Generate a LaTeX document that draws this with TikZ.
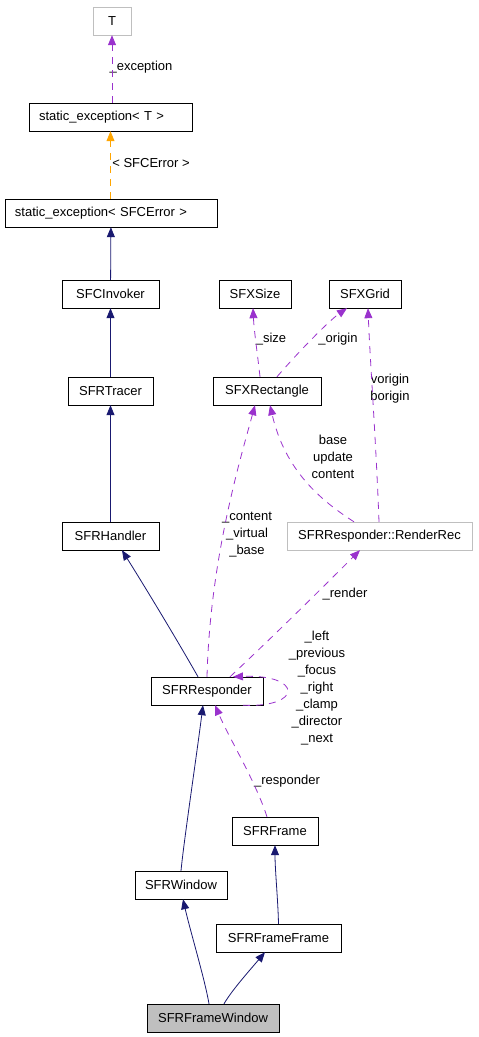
\documentclass[tikz,border=0pt]{standalone}
\usepackage{fontspec}
\setmainfont{Liberation Sans}
\usetikzlibrary{arrows.meta}
\definecolor{inhcol}{HTML}{191970}
\definecolor{usecol}{HTML}{9A32CD}
\definecolor{tplcol}{HTML}{FFA500}
\definecolor{boxgray}{HTML}{BFBFBF}

\begin{document}
\begin{tikzpicture}[x=1pt,y=-1pt,
  cls/.style={draw,rectangle,minimum height=28pt,inner xsep=2pt,font=\fontsize{13}{15}\selectfont},
  ext/.style={cls,draw=boxgray},
  tplcls/.style={cls,inner xsep=10pt,text width=#1,align=left},
  lbl/.style={font=\fontsize{13}{17}\selectfont,align=center,inner sep=0pt},
  inh/.style={draw=inhcol,line width=0.8pt,-{Triangle[length=10pt,width=8pt]}},
  use/.style={draw=usecol,line width=0.8pt,dash pattern=on 7pt off 6pt,-{Triangle[length=10pt,width=8pt]}},
  tpl/.style={draw=tplcol,line width=0.8pt,dash pattern=on 7pt off 6pt,-{Triangle[length=10pt,width=8pt]}}]
  \useasboundingbox (0,0) rectangle (479,1037);
  % classes
  \node[ext,minimum width=38pt] (T) at (112,21) {T};
  \node[tplcls=143pt] (stT) at (110.5,117) {static\_exception< T >};
  \node[tplcls=192pt] (stErr) at (111,213) {static\_exception< SFCError >};
  \node[cls,minimum width=97pt] (inv) at (110.5,294) {SFCInvoker};
  \node[cls,minimum width=85pt] (tracer) at (110.5,391) {SFRTracer};
  \node[cls,minimum width=97pt] (handler) at (110.5,536) {SFRHandler};
  \node[cls,minimum width=72pt] (size) at (255,294) {SFXSize};
  \node[cls,minimum width=72pt] (grid) at (365,294) {SFXGrid};
  \node[cls,minimum width=108pt] (rect) at (267,391) {SFXRectangle};
  \node[ext,minimum width=185pt] (rr) at (379.5,536) {SFRResponder::RenderRec};
  \node[cls,minimum width=112pt] (resp) at (207,691) {SFRResponder};
  \node[cls,minimum width=86pt] (frame) at (275,831) {SFRFrame};
  \node[cls,minimum width=92pt] (win) at (181,885) {SFRWindow};
  \node[cls,minimum width=125pt] (fframe) at (278.5,938) {SFRFrameFrame};
  \node[cls,minimum width=132pt,fill=boxgray] (fwin) at (213,1018) {SFRFrameWindow};
  % edge labels
  \node[lbl] (lexc) at (141,67) {\_exception};
  \node[lbl] (lerr) at (151,163) {< SFCError >};
  \node[lbl] (lsize) at (271,339) {\_size};
  \node[lbl] (lorig) at (338,339) {\_origin};
  \node[lbl] (lvb) at (390,389) {vorigin\\borigin};
  \node[lbl] (lbuc) at (333,457) {base\\update\\content};
  \node[lbl] (lcvb) at (247,535) {\_content\\\_virtual\\\_base};
  \node[lbl] (lrend) at (345,594) {\_render};
  \node[lbl] (lself) at (317,688) {\_left\\\_previous\\\_focus\\\_right\\\_clamp\\\_director\\\_next};
  \node[lbl] (lresp) at (287,781) {\_responder};
  % template and inheritance
  \draw[use] (stT.north -| T.south) -- (T.south);
  \draw[tpl] (stErr.north -| stT.south) -- (stT.south);
  \draw[inh] (inv) -- (stErr);
  \draw[inh] (tracer) -- (inv);
  \draw[inh] (handler) -- (tracer);
  \draw[inh] ([xshift=-9pt]resp.north) .. controls (180,645) and (150,595) .. ([xshift=11.5pt]handler.south);
  \draw[inh] (win.north) .. controls (184,840) and (196,760) .. ([xshift=-4pt]resp.south);
  \draw[inh] ([xshift=-4pt]fwin.north) .. controls (205,980) and (190,930) .. ([xshift=2pt]win.south);
  \draw[inh] (fframe.north) .. controls (278,900) and (275,870) .. (frame.south);
  \draw[inh] ([xshift=11pt]fwin.north) .. controls (232,990) and (250,970) .. ([xshift=-13.5pt]fframe.south);
  % usage
  \draw[use] ([xshift=-7pt]rect.north) .. controls (257,350) and (254,330) .. ([xshift=-2pt]size.south);
  \draw[use] ([xshift=10pt]rect.north) .. controls (300,350) and (330,320) .. ([xshift=-18pt]grid.south);
  \draw[use] ([xshift=-0.5pt]rr.north) .. controls (376,440) and (370,360) .. ([xshift=3pt]grid.south);
  \draw[use] ([xshift=-25.5pt]rr.north) .. controls (320,500) and (285,470) .. ([xshift=3pt]rect.south);
  \draw[use] (resp.north) .. controls (210,560) and (240,460) .. ([xshift=-12pt]rect.south);
  \draw[use] ([xshift=23pt]resp.north) .. controls (280,630) and (330,580) .. ([xshift=-19.5pt]rr.south);
  \draw[use] ([xshift=36pt]resp.south) .. controls (303,708) and (303,674) .. ([xshift=26pt]resp.north);
  \draw[use] ([xshift=-8pt]frame.north) .. controls (255,780) and (230,740) .. ([xshift=8pt]resp.south);
\end{tikzpicture}
\end{document}
